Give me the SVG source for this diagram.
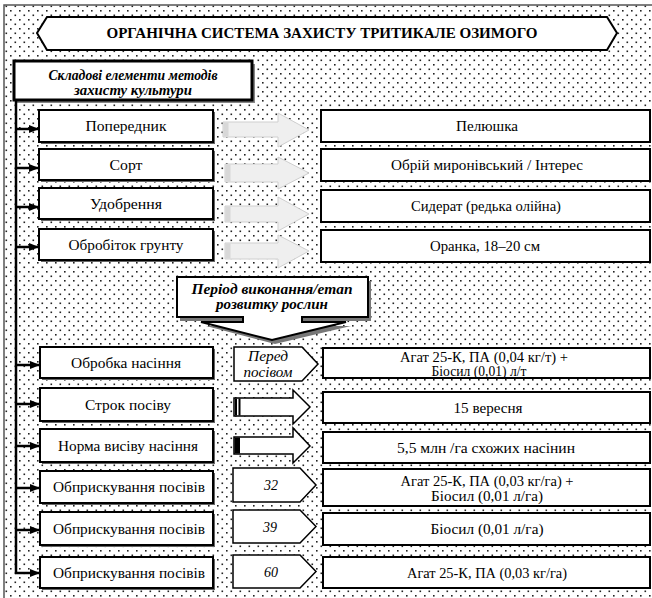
<svg xmlns="http://www.w3.org/2000/svg" width="652" height="598" viewBox="0 0 652 598">
<defs>
<pattern id="dots" width="9" height="9" patternUnits="userSpaceOnUse">
<rect x="1" y="1" width="1.6" height="1.6" fill="#222"/>
<rect x="5.5" y="5.5" width="1.6" height="1.6" fill="#222"/>
</pattern>
<marker id="ah" viewBox="0 0 10 8" refX="10" refY="4" markerWidth="10" markerHeight="8" markerUnits="userSpaceOnUse" orient="auto">
<path d="M0,0 L10,4 L0,8 Z" fill="#000"/>
</marker>
</defs>
<style>
.t{font-size:14px;text-anchor:middle;fill:#000}
.bi{font-weight:bold;font-style:italic}
.i{font-style:italic}
.b{font-weight:bold}
.box{fill:#fff;stroke:#000;stroke-width:2}
.sh{fill:#666}
.pent{fill:#fff;stroke:#000;stroke-width:1.5}
.ga{fill:#efefef;stroke:#cfcfcf;stroke-width:1}
.gs{fill:#d8d8d8}
.ba{fill:#fff;stroke:#000;stroke-width:1.5}
.con{stroke:#000;stroke-width:2.5;fill:none}
.arr{stroke:#000;stroke-width:2.5;fill:none;marker-end:url(#ah)}
</style>
<rect x="0" y="0" width="652" height="598" fill="#fff"/>
<rect x="4" y="5" width="660" height="610" fill="url(#dots)" stroke="#555" stroke-width="1.5"/>

<g font-family="Liberation Serif, Times New Roman, Tinos, DejaVu Serif, Noto Serif, serif">
<g id="header">
<path d="M37,33 L47,17 H607 L617,33 L607,50 H47 Z" fill="#fff" stroke="#000" stroke-width="2"/>
<text class="t b" x="322" y="38" font-size="15" textLength="431" lengthAdjust="spacingAndGlyphs">ОРГАНІЧНА СИСТЕМА ЗАХИСТУ ТРИТИКАЛЕ ОЗИМОГО</text>
</g>

<g id="components">
<rect x="17" y="64" width="238" height="39" fill="#888"/>
<rect x="14" y="61" width="238" height="39" fill="#fff" stroke="#000" stroke-width="3"/>
<text class="t bi" x="133" y="80" font-size="13" textLength="169" lengthAdjust="spacingAndGlyphs">Складові елементи методів</text>
<text class="t bi" x="133" y="95" font-size="13" textLength="118" lengthAdjust="spacingAndGlyphs">захисту культури</text>
</g>

<g id="connectors">
<path class="con" d="M16,100 V573"/>
<path class="arr" d="M15,129 H39"/>
<path class="arr" d="M15,168 H39"/>
<path class="arr" d="M15,207 H39"/>
<path class="arr" d="M15,247 H39"/>
<path class="arr" d="M15,365 H40"/>
<path class="arr" d="M15,404 H40"/>
<path class="arr" d="M15,446 H40"/>
<path class="arr" d="M15,488 H40"/>
<path class="arr" d="M15,530 H40"/>
<path class="arr" d="M15,573 H40"/>
</g>

<g id="gray-arrows">
<path class="ga" d="M223,122 H278 V113 L309,130 L278,147 V137 H223 Z"/><rect class="gs" x="223.5" y="122.5" width="5" height="14"/>
<path class="ga" d="M225,164 H278 V157 L309,173 L278,189 V182 H225 Z"/><rect class="gs" x="225.5" y="164.5" width="5" height="17"/>
<path class="ga" d="M225,206 H278 V197 L309,214 L278,231 V222 H225 Z"/><rect class="gs" x="225.5" y="206.5" width="5" height="15"/>
<path class="ga" d="M225,243 H278 V235 L309,251 L278,268 V259 H225 Z"/><rect class="gs" x="225.5" y="243.5" width="5" height="15"/>
</g>

<g id="n-poperednyk"><rect class="sh" x="41" y="112" width="174" height="32"/><rect class="box" x="39" y="110" width="174" height="32"/><text class="t" x="126" y="131" textLength="81" lengthAdjust="spacingAndGlyphs">Попередник</text></g>
<g id="n-sort"><rect class="sh" x="41" y="151" width="174" height="31"/><rect class="box" x="39" y="149" width="174" height="31"/><text class="t" x="126" y="169.5" textLength="33" lengthAdjust="spacingAndGlyphs">Сорт</text></g>
<g id="n-udobrennia"><rect class="sh" x="41" y="190" width="174" height="31"/><rect class="box" x="39" y="188" width="174" height="31"/><text class="t" x="126" y="208.5" textLength="72" lengthAdjust="spacingAndGlyphs">Удобрення</text></g>
<g id="n-obrobitok"><rect class="sh" x="41" y="231" width="174" height="31"/><rect class="box" x="39" y="229" width="174" height="31"/><text class="t" x="126" y="249.5" textLength="115" lengthAdjust="spacingAndGlyphs">Обробіток грунту</text></g>

<g id="v-peliushka"><rect class="box" x="321" y="110" width="329" height="32"/><text class="t" x="487" y="131" textLength="62" lengthAdjust="spacingAndGlyphs">Пелюшка</text></g>
<g id="v-sort"><rect class="box" x="321" y="149" width="329" height="32"/><text class="t" x="487" y="170" textLength="192" lengthAdjust="spacingAndGlyphs">Обрій миронівський / Інтерес</text></g>
<g id="v-siderat"><rect class="box" x="321" y="190" width="329" height="32"/><text class="t" x="486" y="211" textLength="150" lengthAdjust="spacingAndGlyphs">Сидерат (редька олійна)</text></g>
<g id="v-oranka"><rect class="box" x="321" y="230" width="329" height="32"/><text class="t" x="485" y="251" textLength="110" lengthAdjust="spacingAndGlyphs">Оранка, 18–20 см</text></g>

<g id="period">
<path d="M180,281 H371 V321 H305 V326 H351 L275,344 L206,326 H246 V321 H180 Z" fill="#777"/>
<path d="M177,277 H368 V317 H302 V322 H346 L272,340 L201,322 H243 V317 H177 Z" fill="#fff" stroke="#000" stroke-width="2"/>
<text class="t bi" x="272" y="294" textLength="161" lengthAdjust="spacingAndGlyphs">Період виконання/етап</text>
<text class="t bi" x="272" y="309" textLength="112" lengthAdjust="spacingAndGlyphs">розвитку рослин</text>
</g>

<g id="n-obrobka"><rect class="sh" x="42" y="349" width="173" height="31"/><rect class="box" x="40" y="347" width="173" height="31"/><text class="t" x="126" y="367.5" textLength="110" lengthAdjust="spacingAndGlyphs">Обробка насіння</text></g>
<g id="n-strok"><rect class="sh" x="42" y="390" width="173" height="33"/><rect class="box" x="40" y="388" width="173" height="33"/><text class="t" x="128" y="409.5" textLength="86" lengthAdjust="spacingAndGlyphs">Строк посіву</text></g>
<g id="n-norma"><rect class="sh" x="42" y="431" width="173" height="33"/><rect class="box" x="40" y="429" width="173" height="33"/><text class="t" x="128" y="450.5" textLength="140" lengthAdjust="spacingAndGlyphs">Норма висіву насіння</text></g>
<g id="n-obpr1"><rect class="sh" x="42" y="473" width="173" height="32"/><rect class="box" x="40" y="471" width="173" height="32"/><text class="t" x="129" y="492" textLength="152" lengthAdjust="spacingAndGlyphs">Обприскування посівів</text></g>
<g id="n-obpr2"><rect class="sh" x="42" y="514" width="173" height="33"/><rect class="box" x="40" y="512" width="173" height="33"/><text class="t" x="129" y="533.5" textLength="152" lengthAdjust="spacingAndGlyphs">Обприскування посівів</text></g>
<g id="n-obpr3"><rect class="sh" x="42" y="559" width="173" height="31"/><rect class="box" x="40" y="557" width="173" height="31"/><text class="t" x="129" y="577.5" textLength="152" lengthAdjust="spacingAndGlyphs">Обприскування посівів</text></g>

<g id="p-pered"><path class="pent" d="M234,347 H302 L318,364 L302,381 H234 Z"/><text class="t i" x="268" y="361" font-size="13" textLength="40" lengthAdjust="spacingAndGlyphs">Перед</text><text class="t i" x="268" y="377" font-size="13" textLength="49" lengthAdjust="spacingAndGlyphs">посівом</text></g>
<g id="p-strok"><path class="ba" d="M234,398 H293 V390 L310,407 L293,424 V416 H234 Z"/><rect x="235" y="398.5" width="2" height="17" fill="#000"/><rect x="238.5" y="398.5" width="2" height="17" fill="#000"/></g>
<g id="p-norma"><path class="ba" d="M234,437 H293 V428 L310,446 L293,463 V454 H234 Z"/><rect x="234.5" y="437.5" width="5.5" height="16" fill="#000"/></g>
<g id="p-32"><path class="pent" d="M233,468 H300 L316,485 L300,502 H233 Z"/><text class="t i" x="271" y="490">32</text></g>
<g id="p-39"><path class="pent" d="M233,510 H300 L316,526.5 L300,543 H233 Z"/><text class="t i" x="270" y="531.5">39</text></g>
<g id="p-60"><path class="pent" d="M233,555 H300 L316,571.5 L300,588 H233 Z"/><text class="t i" x="271" y="577">60</text></g>

<g id="v-agat1"><rect class="box" x="323" y="348" width="327" height="30"/><text class="t" x="484" y="362" textLength="168" lengthAdjust="spacingAndGlyphs">Агат 25-К, ПА (0,04 кг/т) +</text><text class="t" x="479" y="376" textLength="95" lengthAdjust="spacingAndGlyphs">Біосил (0,01) л/т</text></g>
<g id="v-date"><rect class="box" x="323" y="392" width="327" height="31"/><text class="t" x="488" y="412.5" textLength="69" lengthAdjust="spacingAndGlyphs">15 вересня</text></g>
<g id="v-norm"><rect class="box" x="323" y="432" width="327" height="31"/><text class="t" x="486" y="452.5" textLength="178" lengthAdjust="spacingAndGlyphs">5,5 млн /га схожих насінин</text></g>
<g id="v-agat2"><rect class="box" x="323" y="469" width="327" height="37"/><text class="t" x="487" y="486" textLength="173" lengthAdjust="spacingAndGlyphs">Агат 25-К, ПА (0,03 кг/га) +</text><text class="t" x="487" y="501" textLength="112" lengthAdjust="spacingAndGlyphs">Біосил (0,01 л/га)</text></g>
<g id="v-biosyl"><rect class="box" x="323" y="513" width="327" height="32"/><text class="t" x="487" y="534" textLength="113" lengthAdjust="spacingAndGlyphs">Біосил (0,01 л/га)</text></g>
<g id="v-agat3"><rect class="box" x="323" y="557" width="327" height="31"/><text class="t" x="487" y="577.5" textLength="160" lengthAdjust="spacingAndGlyphs">Агат 25-К, ПА (0,03 кг/га)</text></g>
</g>
</svg>
